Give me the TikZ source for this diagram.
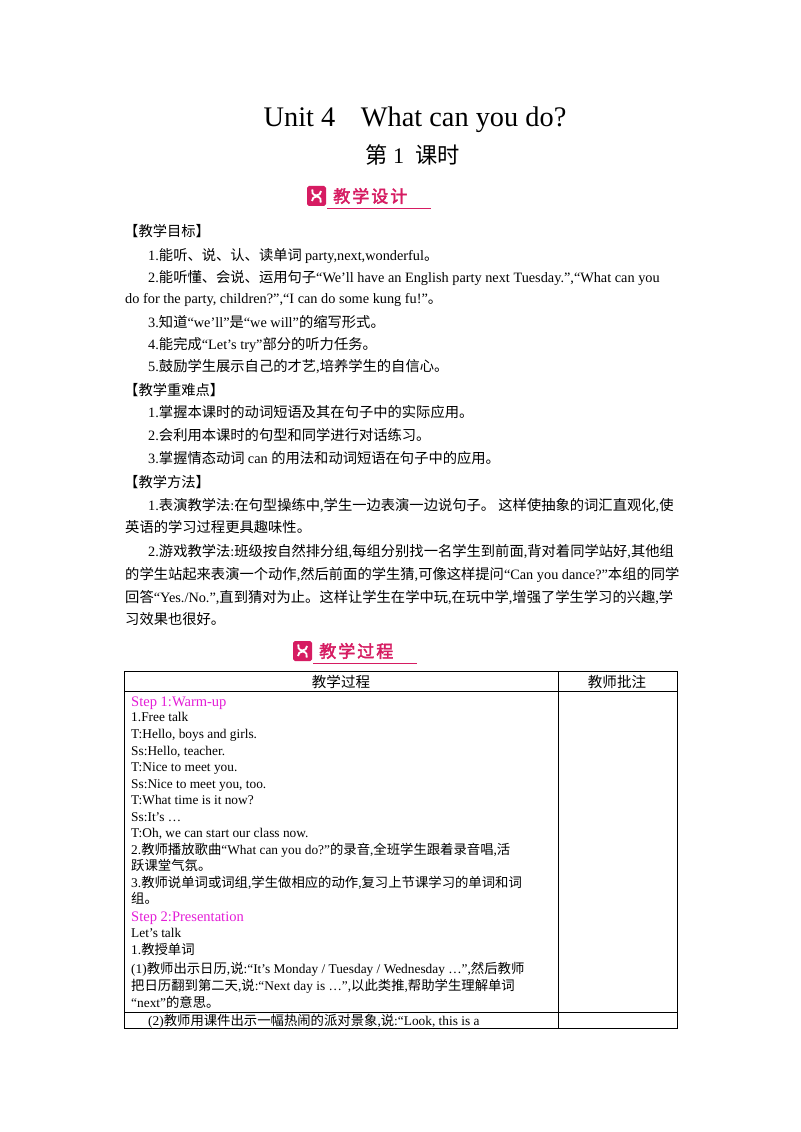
\documentclass[tikz,border=0pt]{standalone}
\usepackage{fontspec}
\setmainfont{Liberation Serif}
\newfontfamily\cjkf{Noto Sans CJK SC}
\newfontfamily\cjkb{Noto Sans CJK SC}[FakeBold=2.5,LetterSpace=12]
\XeTeXinterchartokenstate=1
\newXeTeXintercharclass\cjkcls
\count255="3000
\loop\XeTeXcharclass\count255=\cjkcls\ifnum\count255<"9FFF\advance\count255 1\repeat
\count255="FF00
\loop\XeTeXcharclass\count255=\cjkcls\ifnum\count255<"FFEF\advance\count255 1\repeat
\newif\ifbadgemode
\XeTeXinterchartoks 0 \cjkcls={\ifbadgemode\else\cjkf\fi}
\XeTeXinterchartoks 4095 \cjkcls={\ifbadgemode\else\cjkf\fi}
\XeTeXinterchartoks \cjkcls 0={\rmfamily}
\XeTeXinterchartoks 4095 0={\rmfamily}
\definecolor{stepc}{RGB}{228,30,215}
\definecolor{badge}{RGB}{214,28,98}
\begin{document}
\begin{tikzpicture}[x=0.03cm,y=-0.03cm,
 body/.style={anchor=base west,inner sep=0pt,font=\fontsize{12.2}{14}\selectfont},
 tb/.style={anchor=base west,inner sep=0pt,font=\fontsize{11.4}{13}\selectfont},
 st/.style={tb,text=stepc,font=\fontsize{12.4}{14}\selectfont},
 tline/.style={line width=0.8pt}]
\useasboundingbox[fill=white] (0,0) rectangle (800,1132);
\node[anchor=base,inner sep=0pt,font=\fontsize{24.2}{28}\selectfont] (title) at (415,127) {Unit 4\hspace{0.9em}What can you do?};
\node[anchor=base,inner sep=0pt,font=\fontsize{19}{22}\selectfont] (sub) at (413,164) {第 1\hspace{0.5em}课时};
% badges
\foreach \n/\x/\y/\t in {b1/307/186/教学设计, b2/293/641/教学过程}{
 \fill[badge,rounded corners=1.5] (\x,\y) rectangle ++(19,20);
 \draw[white,line width=1.6pt] (\x+14,\y+5) arc (0:200:4.5) (\x+5,\y+15) arc (180:380:4.5);
 \node[anchor=west,inner sep=0pt,text=badge,font=\fontsize{14.5}{16}\selectfont] (\n) at (\x+26,\y+10) {\badgemodetrue\cjkb\t};
 \draw[badge,line width=0.8pt] (\x+20,\y+22) -- ++(104,0);
}
\node[body] (l1) at (124,237) {【教学目标】};
\node[body] (l2) at (148,260) {1.能听、说、认、读单词 party,next,wonderful。};
\node[body] (l3) at (148,282) {2.能听懂、会说、运用句子“We’ll have an English party next Tuesday.”,“What can you};
\node[body] (l4) at (125,303) {do for the party, children?”,“I can do some kung fu!”。};
\node[body] (l5) at (148,327) {3.知道“we’ll”是“we will”的缩写形式。};
\node[body] (l6) at (148,349) {4.能完成“Let’s try”部分的听力任务。};
\node[body] (l7) at (148,371) {5.鼓励学生展示自己的才艺,培养学生的自信心。};
\node[body] (l8) at (124,395) {【教学重难点】};
\node[body] (l9) at (148,417) {1.掌握本课时的动词短语及其在句子中的实际应用。};
\node[body] (l10) at (148,440) {2.会利用本课时的句型和同学进行对话练习。};
\node[body] (l11) at (148,463) {3.掌握情态动词 can 的用法和动词短语在句子中的应用。};
\node[body] (l12) at (124,487) {【教学方法】};
\node[body] (l13) at (148,510) {1.表演教学法:在句型操练中,学生一边表演一边说句子。 这样使抽象的词汇直观化,使};
\node[body] (l14) at (125,532) {英语的学习过程更具趣味性。};
\node[body] (l15) at (148,556) {2.游戏教学法:班级按自然排分组,每组分别找一名学生到前面,背对着同学站好,其他组};
\node[body] (l16) at (125,579) {的学生站起来表演一个动作,然后前面的学生猜,可像这样提问“Can you dance?”本组的同学};
\node[body] (l17) at (125,602) {回答“Yes./No.”,直到猜对为止。这样让学生在学中玩,在玩中学,增强了学生学习的兴趣,学};
\node[body] (l18) at (125,624) {习效果也很好。};
% table
\draw[tline] (124,671) rectangle (677,1028);
\draw[tline] (124,691) -- (677,691);
\draw[tline] (558,671) -- (558,1028);
\draw[tline] (124,1012) -- (677,1012);
\node[anchor=base,inner sep=0pt,font=\fontsize{12.4}{14}\selectfont] (h1) at (341,687) {教学过程};
\node[anchor=base,inner sep=0pt,font=\fontsize{12.4}{14}\selectfont] (h2) at (617,687) {教师批注};
\node[st] (s1) at (131,706) {Step 1:Warm-up};
\node[tb] (t1) at (131,721) {1.Free talk};
\node[tb] (t2) at (131,738) {T:Hello, boys and girls.};
\node[tb] (t3) at (131,755) {Ss:Hello, teacher.};
\node[tb] (t4) at (131,771) {T:Nice to meet you.};
\node[tb] (t5) at (131,788) {Ss:Nice to meet you, too.};
\node[tb] (t6) at (131,804) {T:What time is it now?};
\node[tb] (t7) at (131,821) {Ss:It’s …};
\node[tb] (t8) at (131,837) {T:Oh, we can start our class now.};
\node[tb] (t9) at (131,854) {2.教师播放歌曲“What can you do?”的录音,全班学生跟着录音唱,活};
\node[tb] (t10) at (131,870) {跃课堂气氛。};
\node[tb] (t11) at (131,887) {3.教师说单词或词组,学生做相应的动作,复习上节课学习的单词和词};
\node[tb] (t12) at (131,903) {组。};
\node[st] (s2) at (131,921) {Step 2:Presentation};
\node[tb] (t13) at (131,937) {Let’s talk};
\node[tb] (t14) at (131,954) {1.教授单词};
\node[tb] (t15) at (131,973) {(1)教师出示日历,说:“It’s Monday / Tuesday / Wednesday …”,然后教师};
\node[tb] (t16) at (131,990) {把日历翻到第二天,说:“Next day is …”,以此类推,帮助学生理解单词};
\node[tb] (t17) at (131,1007) {“next”的意思。};
\node[tb] (t18) at (148,1025) {(2)教师用课件出示一幅热闹的派对景象,说:“Look, this is a};
\end{tikzpicture}
\end{document}
